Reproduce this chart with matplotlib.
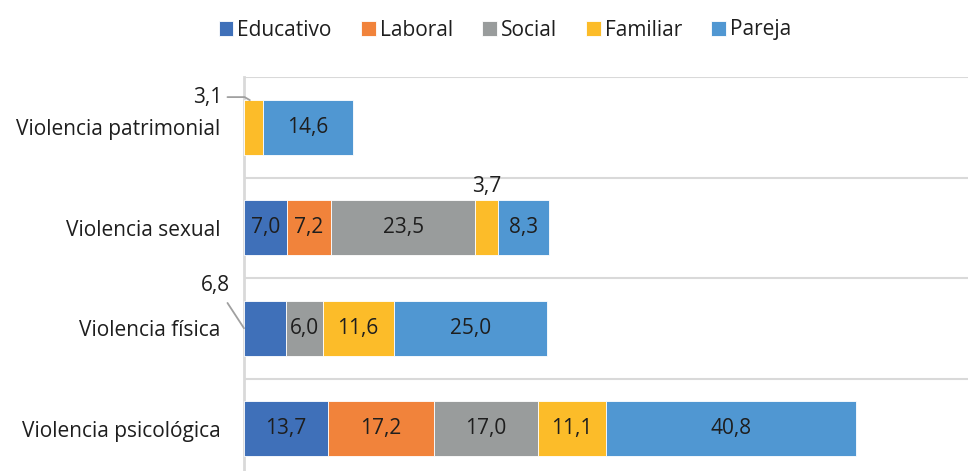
import matplotlib.pyplot as plt
import numpy as np

plt.rcParams['font.family'] = ['Open Sans', 'DejaVu Sans']

# Data
categorias = ['Violencia patrimonial', 'Violencia sexual', 'Violencia física', 'Violencia psicológica']
series = ['Educativo', 'Laboral', 'Social', 'Familiar', 'Pareja']
educativo = [0.0, 7.0, 6.8, 13.7]
laboral = [0.0, 7.2, 0.0, 17.2]
social = [0.0, 23.5, 6.0, 17.0]
familiar = [3.1, 3.7, 11.6, 11.1]
pareja = [14.6, 8.3, 25.0, 40.8]
colores = ['#3F70B9', '#F1833B', '#999C9C', '#FCBC29', '#5097D2']

valores = [educativo, laboral, social, familiar, pareja]
txt_color = '#1E1E1E'
grid_color = '#D9D9D9'
fs = 15

fig = plt.figure(figsize=(9.68, 4.71), dpi=100)
ax = fig.add_axes([244 / 968, (471 - 479) / 471, (968 - 244) / 968, (479 - 77) / 471])

def fmt(v):
    return f'{v:.1f}'.replace('.', ',')

y = np.arange(len(categorias))
left = np.zeros(len(categorias))
bars = []
for nombre, vals, col in zip(series, valores, colores):
    b = ax.barh(y, vals, left=left, height=0.55, color=col, edgecolor='white',
                linewidth=0.6, label=nombre, zorder=3)
    bars.append(b)
    for i, v in enumerate(vals):
        # small segments get outside labels below
        if v < 5:
            continue
        if nombre == 'Educativo' and categorias[i] == 'Violencia física':
            continue
        ax.text(left[i] + v / 2, y[i], fmt(v),
                ha='center', va='center', fontsize=fs, color=txt_color, zorder=4)
    left = left + np.array(vals)

# outside labels with leader lines
# Familiar, Violencia patrimonial
ax.annotate(fmt(familiar[0]), xy=(familiar[0] / 2 - 0.6, y[0] - 0.27),
            xytext=(-3.6, y[0] - 0.3), ha='right', va='center', fontsize=fs,
            color=txt_color, annotation_clip=False,
            arrowprops=dict(arrowstyle='-', color='#A0A0A0', lw=1.3,
                            connectionstyle='angle,angleA=0,angleB=150,rad=0',
                            shrinkA=2, shrinkB=0))
# Familiar, Violencia sexual
xs = sum(v[1] for v in valores[:3]) + familiar[1] / 2
ax.text(xs, y[1] - 0.41, fmt(familiar[1]), ha='center', va='center',
        fontsize=fs, color=txt_color)
# Educativo, Violencia física
ax.annotate(fmt(educativo[2]), xy=(0, y[2]), xytext=(-4.6, y[2] - 0.43),
            ha='center', va='center', fontsize=fs, color=txt_color,
            annotation_clip=False,
            arrowprops=dict(arrowstyle='-', color='#A0A0A0', lw=1.3,
                            shrinkA=4, shrinkB=0))

ax.set_xlim(0, 118)
ax.set_ylim(3.5, -0.5)
ax.set_yticks(y)
ax.set_yticklabels(categorias, fontsize=fs, color=txt_color)
ax.tick_params(axis='y', length=0, pad=17)
ax.set_xticks([])
for b in np.arange(-0.5, 4, 1):
    ax.axhline(b, color=grid_color, lw=1.5, zorder=1)
for s in ['top', 'right', 'bottom']:
    ax.spines[s].set_visible(False)
ax.spines['left'].set_color(grid_color)
ax.spines['left'].set_linewidth(2)
ax.spines['left'].set_zorder(2)

fig.legend(handles=bars, labels=series, loc='center', bbox_to_anchor=(505 / 968, 1 - 30 / 471),
           ncol=5, frameon=False, fontsize=fs, handlelength=0.7, handleheight=0.7,
           handletextpad=0.2, columnspacing=1.4, labelcolor=txt_color)

plt.savefig('out.png', dpi=100)
